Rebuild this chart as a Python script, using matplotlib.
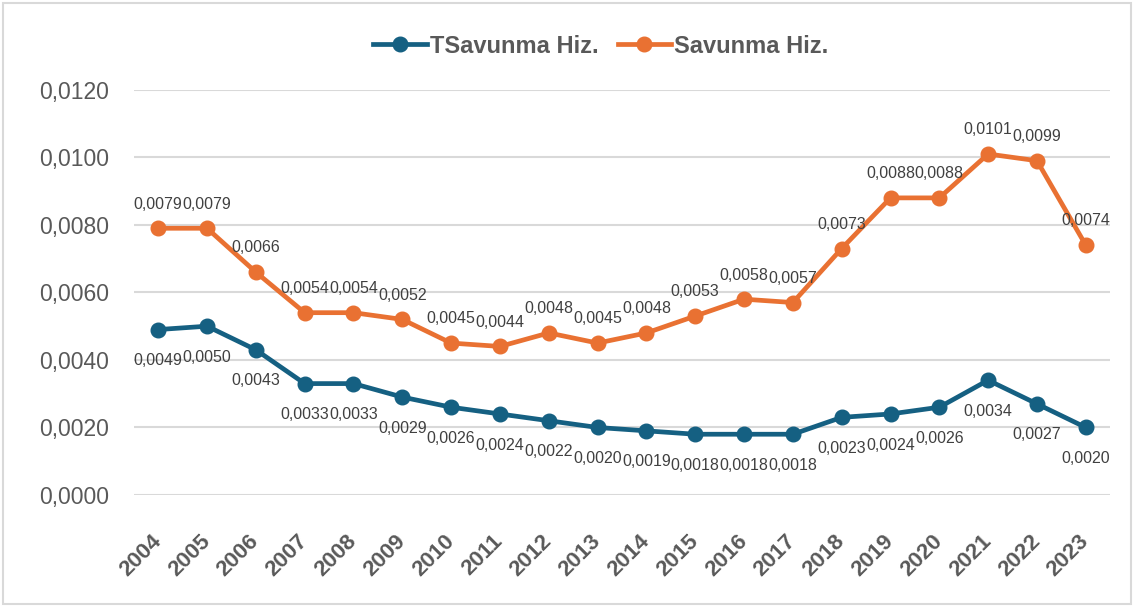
import matplotlib.pyplot as plt
from matplotlib.patches import Rectangle

years = [str(y) for y in range(2004, 2024)]
tsavunma = [0.0049, 0.0050, 0.0043, 0.0033, 0.0033, 0.0029, 0.0026, 0.0024, 0.0022, 0.0020,
            0.0019, 0.0018, 0.0018, 0.0018, 0.0023, 0.0024, 0.0026, 0.0034, 0.0027, 0.0020]
savunma = [0.0079, 0.0079, 0.0066, 0.0054, 0.0054, 0.0052, 0.0045, 0.0044, 0.0048, 0.0045,
           0.0048, 0.0053, 0.0058, 0.0057, 0.0073, 0.0088, 0.0088, 0.0101, 0.0099, 0.0074]
series_names = ["TSavunma Hiz.", "Savunma Hiz."]

BLUE = "#156082"
ORANGE = "#E97132"
TEXT = "#595959"
LABEL = "#404040"

plt.rcParams["font.family"] = ["Liberation Sans", "DejaVu Sans"]

fig = plt.figure(figsize=(11.34, 6.07), dpi=100)
ax = fig.add_axes([0.118, 0.1845, 0.861, 0.6675])

x = list(range(len(years)))
ax.plot(x, tsavunma, color=BLUE, lw=3.4, marker="o", ms=10.5, label=series_names[0], zorder=3)
ax.plot(x, savunma, color=ORANGE, lw=3.4, marker="o", ms=10.5, label=series_names[1], zorder=3)


def fmt(v):
    return f"{v:.4f}".replace(".", ",")


# data labels: below for blue, above for orange
for xi, v in zip(x, tsavunma):
    ax.annotate(fmt(v), (xi, v), xytext=(0, -17), textcoords="offset points",
                ha="center", va="top", fontsize=11.5, color=LABEL)
for xi, v in zip(x, savunma):
    ax.annotate(fmt(v), (xi, v), xytext=(0, 12), textcoords="offset points",
                ha="center", va="bottom", fontsize=11.5, color=LABEL)

ax.set_xlim(-0.5, len(years) - 0.5)
ax.set_ylim(0, 0.012)
yt = [i * 0.002 for i in range(7)]
ax.set_yticks(yt)
ax.set_yticklabels([fmt(v) for v in yt], fontsize=16.5, color=TEXT)
ax.set_xticks(x)
ax.set_xticklabels(years, rotation=45, ha="right", va="center", rotation_mode="anchor",
                   fontsize=16, fontweight="bold", color=TEXT)
ax.tick_params(axis="both", length=0)
ax.tick_params(axis="y", pad=18)
ax.tick_params(axis="x", pad=31)
ax.grid(axis="y", color="#d9d9d9", lw=1.5)
ax.set_axisbelow(True)
for s in ax.spines.values():
    s.set_visible(False)

leg = fig.legend(loc="center", bbox_to_anchor=(0.53, 0.924), ncol=2, frameon=False,
                 prop={"size": 17, "weight": "bold"}, handlelength=2.25, columnspacing=0.8,
                 handletextpad=0.15)
for t in leg.get_texts():
    t.set_color(TEXT)

fig.patches.append(Rectangle((0.003, 0.005), 0.994, 0.99, transform=fig.transFigure,
                             fill=False, edgecolor="#d9d9d9", lw=1.5))

fig.savefig("out.png", dpi=100)
